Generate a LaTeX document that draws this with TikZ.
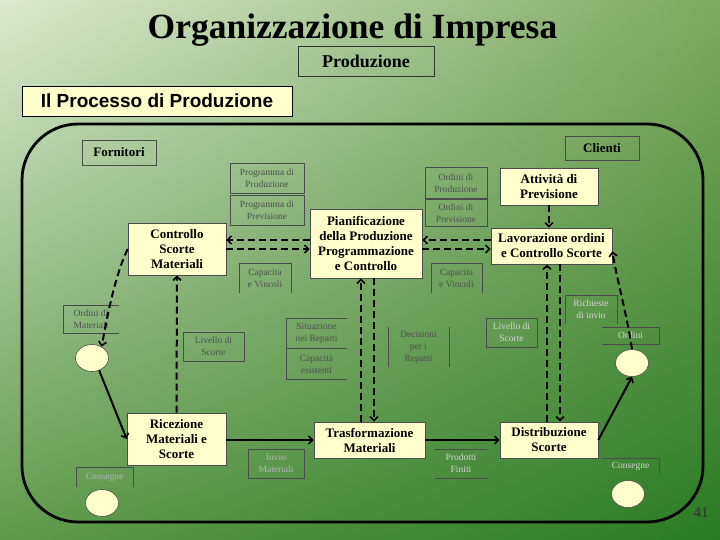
\documentclass[tikz,border=0pt]{standalone}
\usepackage{fontspec}
\setmainfont{Liberation Serif}
\newfontfamily\hdsans{Liberation Sans}
\usetikzlibrary{arrows.meta,shapes.geometric,shadings}
\definecolor{boxfill}{HTML}{FFFFCC}
\definecolor{lbldark}{HTML}{505050}
\definecolor{lblmid}{HTML}{B4B4B4}
\definecolor{lbllight}{HTML}{D4D4D4}
\definecolor{bgUL}{HTML}{DDE9D0}
\definecolor{bgUR}{HTML}{7DA95E}
\definecolor{bgLL}{HTML}{5E9A4A}
\definecolor{bgLR}{HTML}{2A7B24}
\tikzset{
 mainbox/.style={draw=black!70, line width=0.6pt, fill=boxfill, font=\bfseries\fontsize{13}{15}\selectfont, align=center, inner sep=0pt},
 endbox/.style={draw=black!70, line width=0.8pt, font=\bfseries\fontsize{13}{15}\selectfont, inner sep=0pt},
 lbl/.style={font=\fontsize{9.5}{12}\selectfont, text=lbldark, align=center, inner sep=0pt},
 lblm/.style={lbl, text=lblmid},
 lbll/.style={lbl, text=lbllight},
 lblline/.style={draw=black!70, line width=0.6pt},
 ell/.style={ellipse, draw=black!70, line width=0.6pt, fill=boxfill, minimum width=33pt, minimum height=27pt, inner sep=0pt},
 tipbarb/.tip={Straight Barb[length=4pt,width=8pt,line width=1.6pt]},
 dsh/.style={line width=2pt, dash pattern=on 7pt off 4pt, -tipbarb},
 sol/.style={line width=2pt, -tipbarb},
}
\begin{document}
\begin{tikzpicture}[x=1pt,y=-1pt]
\useasboundingbox (0,0) rectangle (720,540);
\shade[upper left=bgUL, upper right=bgUR, lower left=bgLL, lower right=bgLR] (0,0) rectangle (720,540);

% header
\node[font=\bfseries\fontsize{35.5}{40}\selectfont, anchor=base] (title) at (352.5,39) {Organizzazione di Impresa};
\node[draw=black!80, line width=0.8pt, minimum width=136pt, minimum height=30pt, inner sep=0pt, font=\bfseries\fontsize{18}{20}\selectfont] (prod) at (366,61) {Produzione};
\node[draw=black, line width=0.8pt, fill=boxfill, minimum width=270pt, minimum height=30pt, inner sep=0pt, font=\hdsans\bfseries\fontsize{19}{22}\selectfont] (proc) at (157,101) {Il Processo di Produzione};

% frame
\draw[line width=2.8pt, rounded corners=56pt] (22,124) rectangle (703,522);

% labels
\node[lbl, minimum width=74pt, minimum height=29pt] (lpp) at (267,178.5) {Programma di\\Produzione};
\draw[lblline] (lpp.north west) rectangle (lpp.south east);
\node[lbl, minimum width=74pt, minimum height=29pt] (lpv) at (267,210.5) {Programma di\\Previsione};
\draw[lblline] (lpv.north west) rectangle (lpv.south east);
\node[lbl, minimum width=52pt, minimum height=30pt] (capl) at (265,278) {Capacita\\e Vincoli};
\draw[lblline] (capl.south west) -- (capl.north west) -- (capl.north east) -- (capl.south east);
\node[lbl, minimum width=62pt, minimum height=30pt] (lop) at (456,183) {Ordini di\\Produzione};
\draw[lblline] (lop.north west) rectangle (lop.south east);
\node[lbl, minimum width=62pt, minimum height=26pt] (lov) at (456,213) {Ordini di\\Previsione};
\draw[lblline] (lov.north west) rectangle (lov.south east);
\node[lbl, minimum width=51pt, minimum height=30pt] (capr) at (456.5,278) {Capacita\\e Vincoli};
\draw[lblline] (capr.south west) -- (capr.north west) -- (capr.north east) -- (capr.south east);
\node[lbl, minimum width=56pt, minimum height=28pt] (lom) at (91,319) {Ordini di\\Materiali};
\draw[lblline] (lom.north east) -- (lom.north west) -- (lom.south west) -- (lom.south east);
\node[lbl, minimum width=61pt, minimum height=29pt] (livl) at (213.5,346.5) {Livello di\\Scorte};
\draw[lblline] (livl.north west) rectangle (livl.south east);
\node[lblm, minimum width=57pt, minimum height=20pt] (consl) at (104.5,477) {Consegne};
\draw[lblline] (consl.south west) -- (consl.north west) -- (consl.north east) -- (consl.south east);
\node[lblm, minimum width=56pt, minimum height=29pt] (inv) at (276,463.5) {Invio\\Materiali};
\draw[lblline] (inv.north west) rectangle (inv.south east);
\node[lbl, minimum width=61pt, minimum height=30pt] (sit) at (316.5,333) {Situazione\\nei Reparti};
\draw[lblline] (sit.north east) -- (sit.north west) -- (sit.south west) -- (sit.south east);
\node[lbl, minimum width=61pt, minimum height=30pt] (cape) at (316.5,364) {Capacità\\esistenti};
\draw[lblline] (cape.north west) -- (cape.south west) -- (cape.south east);
\node[lbl, minimum width=61pt, minimum height=40pt] (dec) at (418.5,347) {Decisioni\\per i\\Reparti};
\draw[lblline] (dec.north west) -- (dec.south west) (dec.north east) -- (dec.south east);
\node[lbll, minimum width=52pt, minimum height=29pt] (pf) at (461,463.5) {Prodotti\\Finiti};
\draw[lblline] (pf.north west) -- (pf.north east) (pf.south west) -- (pf.south east);
\node[lbll, minimum width=51pt, minimum height=29pt] (livr) at (511.5,332.5) {Livello di\\Scorte};
\draw[lblline] (livr.north west) rectangle (livr.south east);
\node[lbll, minimum width=52pt, minimum height=29pt] (ric2) at (591,309.5) {Richieste\\di invio};
\draw[lblline] (ric2.south west) -- (ric2.north west) -- (ric2.north east) -- (ric2.south east);
\node[lbll, minimum width=57pt, minimum height=17pt] (ordl) at (630.5,335.5) {Ordini};
\draw[lblline] (ordl.north west) -- (ordl.north east) -- (ordl.south east) -- (ordl.south west);
\node[lbll, minimum width=57pt, minimum height=17pt] (consr) at (630.5,466.5) {Consegne};
\draw[lblline] (consr.north west) -- (consr.north east) -- (consr.south east);

% main nodes
\node[endbox, minimum width=74pt, minimum height=25pt] (forn) at (119,152.5) {Fornitori};
\node[endbox, minimum width=74pt, minimum height=24pt] (cli) at (602,148) {Clienti};
\node[mainbox, minimum width=98pt, minimum height=52pt] (ctrl) at (177,249) {Controllo\\Scorte\\Materiali};
\node[mainbox, minimum width=112pt, minimum height=69pt] (pian) at (366,243.5) {Pianificazione\\della Produzione\\Programmazione\\e Controllo};
\node[mainbox, minimum width=98pt, minimum height=37pt] (att) at (549,186.5) {Attività di\\Previsione};
\node[mainbox, minimum width=121pt, minimum height=36pt] (lav) at (551.5,246) {Lavorazione ordini\\e Controllo Scorte};
\node[mainbox, minimum width=99pt, minimum height=52pt] (ric) at (176.5,439) {Ricezione\\Materiali e\\Scorte};
\node[mainbox, minimum width=111pt, minimum height=36pt] (tras) at (369.5,440) {Trasformazione\\Materiali};
\node[mainbox, minimum width=98pt, minimum height=36pt] (dist) at (549,440) {Distribuzione\\Scorte};

\node[ell] (e1) at (92,358) {};
\node[ell] (e3) at (102,503) {};
\node[ell] (e2) at (632,363) {};
\node[ell] (e4) at (628,494) {};

% connectors
\draw[dsh] (pian.west |- 0,240) -- (ctrl.east |- 0,240);
\draw[dsh] (ctrl.east |- 0,249) -- (pian.west |- 0,249);
\draw[dsh] (lav.west |- 0,240) -- (pian.east |- 0,240);
\draw[dsh] (pian.east |- 0,249) -- (lav.west |- 0,249);
\draw[dsh] (att.south) -- (att.south |- lav.north);
\draw[dsh] (ric.north) -- (ctrl.south);
\draw[dsh] (tras.north -| 361,0) -- (pian.south -| 361,0);
\draw[dsh] (pian.south -| 374,0) -- (tras.north -| 374,0);
\draw[dsh] (dist.north -| 547,0) -- (lav.south -| 547,0);
\draw[dsh] (lav.south -| 560,0) -- (dist.north -| 560,0);
\draw[dsh] (ctrl.west) .. controls (115,275) and (107,318) .. (e1.50);
\draw[sol] (e1.-60) -- (ric.west);
\draw[sol] (ric.east |- 0,440) -- (tras.west);
\draw[sol] (tras.east) -- (dist.west);
\draw[sol] (dist.east) -- (e2.south);
\draw[dsh] (e2.north) .. controls (627,315) and (617,280) .. (lav.-5);

\node[font=\fontsize{15}{15}\selectfont, text=black!80] (pg) at (701,513) {41};
\end{tikzpicture}
\end{document}
